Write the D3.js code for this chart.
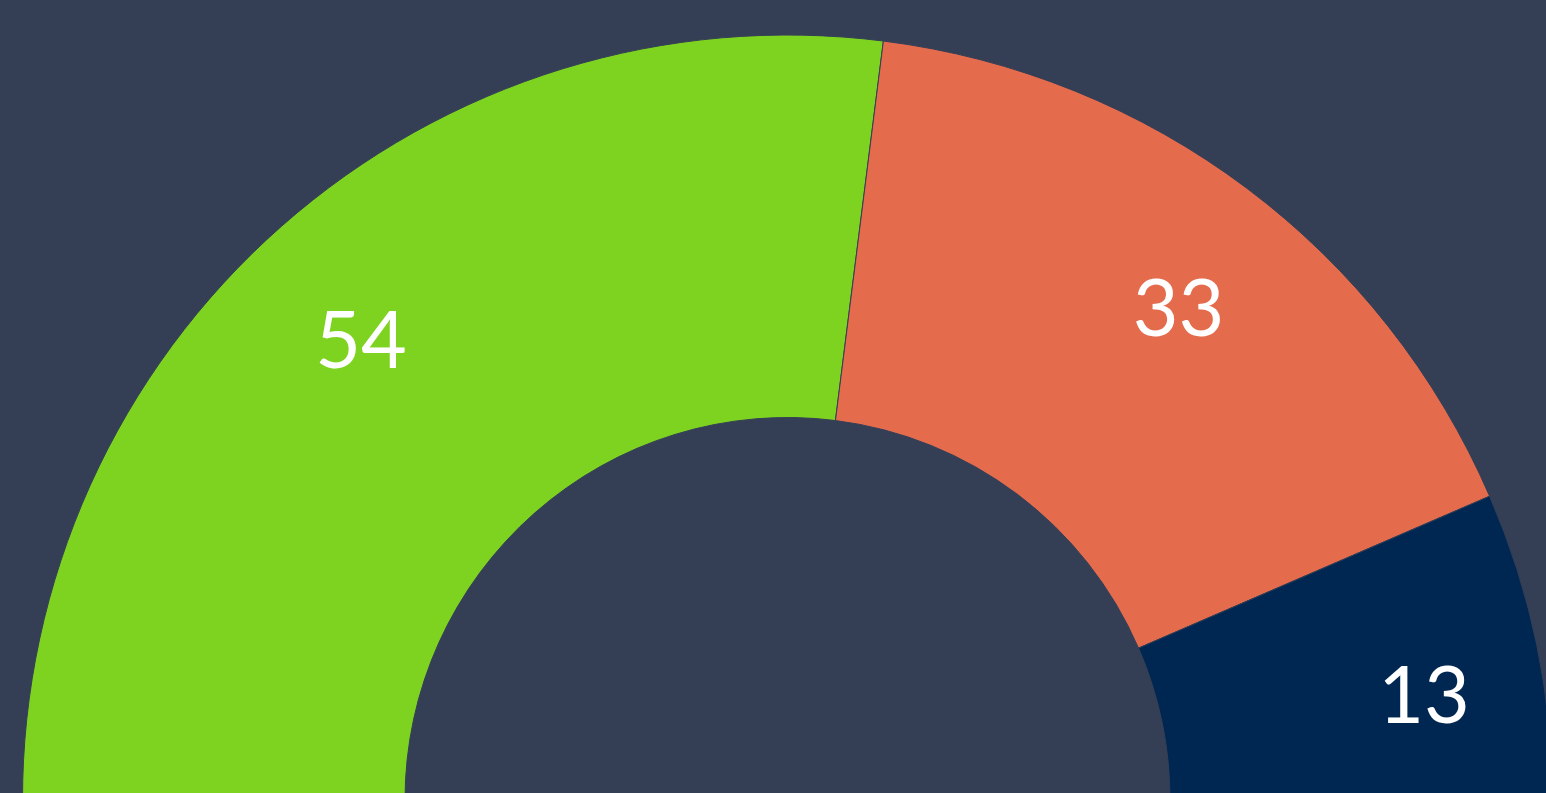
<!DOCTYPE html>
<html>
<head>
<meta charset="utf-8">
<script src="https://cdn.jsdelivr.net/npm/d3@7"></script>
<style>
  html, body { margin: 0; padding: 0; background: #343f56; overflow: hidden; }
  .slice-label { font-family: Lato, "Open Sans", sans-serif; fill: #fff; }
</style>
</head>
<body>
<div id="chart"></div>
<script>
// Data
const categories = ["A", "B", "C"];
const values = [54, 33, 13];
const colors = ["#7ed321", "#e56b4d", "#002752"];

const width = 1546, height = 793;
const cx = 787.5, cy = 800;
const outerR = 765, innerR = 382.5;

const svg = d3.select("#chart")
    .append("svg")
    .attr("width", width)
    .attr("height", height);

const g = svg.append("g")
    .attr("transform", "translate(" + cx + "," + cy + ")");

const data = categories.map((c, i) => ({key: c, value: values[i], color: colors[i]}));

// half donut, left to right
const pie = d3.pie()
    .value(d => d.value)
    .sort(null)
    .startAngle(-Math.PI / 2)
    .endAngle(Math.PI / 2);

const arc = d3.arc()
    .innerRadius(innerR)
    .outerRadius(outerR);

const labelArc = d3.arc()
    .innerRadius(648)
    .outerRadius(648);

const arcs = pie(data);

g.selectAll(".slice")
    .data(arcs)
    .enter().append("path")
    .attr("class", "slice")
    .attr("d", arc)
    .attr("fill", d => d.data.color)
    .attr("stroke", "#343f56")
    .attr("stroke-width", 1);

// labels
g.selectAll(".slice-label")
    .data(arcs)
    .enter().append("text")
    .attr("class", "slice-label")
    .attr("transform", d => "translate(" + labelArc.centroid(d) + ")")
    .attr("text-anchor", "middle")
    .attr("dx", 2)
    .attr("dy", 54)
    .style("font-size", "79px")
    .text(d => d.data.value);
</script>
</body>
</html>
